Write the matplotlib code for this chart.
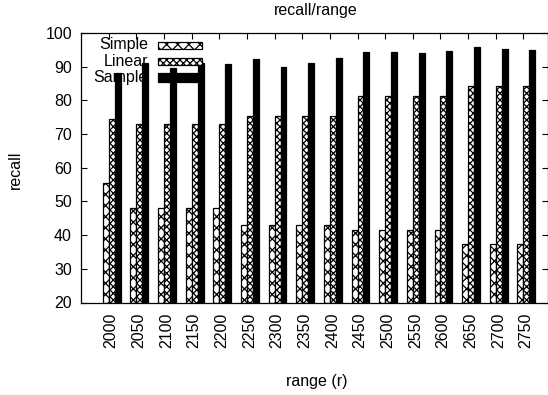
import matplotlib
matplotlib.use("Agg")
import matplotlib.pyplot as plt
import matplotlib.transforms as mtransforms
from matplotlib.patches import Rectangle
import numpy as np

plt.rcParams['font.family'] = ['Liberation Sans', 'DejaVu Sans']
plt.rcParams['hatch.linewidth'] = 0.9

categories = ["2000", "2050", "2100", "2150", "2200", "2250", "2300", "2350",
              "2400", "2450", "2500", "2550", "2600", "2650", "2700", "2750"]
simple = [55.6, 48.1, 48.1, 48.1, 48.1, 43.0, 43.0, 43.0,
          43.0, 41.5, 41.5, 41.5, 41.5, 37.4, 37.4, 37.4]
linear = [74.4, 73.0, 73.0, 73.0, 73.0, 75.4, 75.4, 75.4,
          75.4, 81.3, 81.3, 81.3, 81.3, 84.2, 84.2, 84.2]
sample = [88.0, 91.2, 89.5, 91.2, 90.8, 92.4, 90.0, 91.2,
          92.7, 94.4, 94.3, 94.1, 94.6, 95.7, 95.2, 95.0]
series_names = ["Simple", "Linear", "Sample"]

FS = 11.5

fig = plt.figure(figsize=(5.48, 3.95), dpi=100)
ax = fig.add_axes([81/548, 1-302.5/395, (547.5-81)/548, (302.5-33)/395])

x = np.arange(len(categories))
w = 0.215
styles = [dict(facecolor='white', hatch='xxx'),
          dict(facecolor='white', hatch='xxxxx'),
          dict(facecolor='black', hatch=None)]
offsets = [-w/2, w/2, 1.5*w]
for vals, off, st in zip([simple, linear, sample], offsets, styles):
    ax.bar(x + off, np.array(vals) - 20, bottom=20, width=w,
           edgecolor='black', linewidth=0.9, **st)

ax.set_xlim(-1, 15.87)
ax.set_ylim(20, 100)
ax.set_yticks(np.arange(20, 101, 10))
ax.set_xticks(x)
ax.set_xticklabels(categories, rotation=90)
ax.tick_params(axis='both', direction='in', length=4, width=0.8,
               top=True, right=True, labelsize=FS)
ax.tick_params(axis='x', pad=7.5)
ax.tick_params(axis='y', pad=6.5)
shift = mtransforms.ScaledTranslation(2.5/100, 0, fig.dpi_scale_trans)
for lbl in ax.get_xticklabels():
    lbl.set_transform(lbl.get_transform() + shift)
for s in ax.spines.values():
    s.set_linewidth(0.9)

fig.text(315.5/548, 1-10/395, "recall/range", ha='center', va='center', fontsize=FS)
fig.text(15/548, 1-170/395, "recall", ha='center', va='center', fontsize=FS,
         rotation=90)
fig.text(317/548, 1-381.5/395, "range (r)", ha='center', va='center', fontsize=FS)

# legend (gnuplot style: right-aligned text, key after)
ys = [45, 61, 77.5]
hs = [7, 7, 9]
for name, yy, hh, st in zip(series_names, ys, hs, styles):
    fig.text(148/548, 1-yy/395, name, ha='right', va='center', fontsize=FS)
    fig.patches.append(Rectangle((158/548, 1-(yy+hh/2)/395), 44/548, hh/395,
                                 transform=fig.transFigure, edgecolor='black',
                                 linewidth=0.9, **st))

fig.savefig("out.png", dpi=100)
